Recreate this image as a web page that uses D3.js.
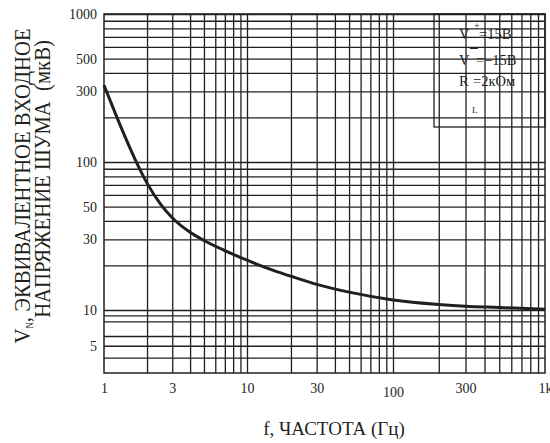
<!DOCTYPE html>
<html>
<head>
<meta charset="utf-8">
<script src="https://cdn.jsdelivr.net/npm/d3@7"></script>
<style>
  body { margin: 0; background: #fff; }
  text { font-family: "Liberation Serif", "Times New Roman", serif; fill: #231f20; }
</style>
</head>
<body>
<div id="chart"></div>
<script>
// frequency (Hz) vs equivalent input noise voltage (uV)
const freq  = [1, 1.2, 1.4, 1.7, 2, 2.5, 3, 4, 5, 7, 10, 15, 20, 30, 50, 100, 200, 300, 500, 1000];
const noise = [330, 213, 149, 98, 72, 51.5, 42, 33.5, 29.5, 25.2, 21.7, 18.6, 16.9, 14.9, 13.2, 11.7, 10.9, 10.6, 10.4, 10.1];

const xTicks = [1, 3, 10, 30, 100, 300, 1000];
const xLabels = ["1", "3", "10", "30", "100", "300", "1k"];
const yTicks = [1000, 500, 300, 100, 50, 30, 10, 5];

const xGrid = [2, 3, 4, 5, 6, 7, 8, 9, 10, 20, 30, 40, 50, 60, 70, 80, 90, 100,
               200, 300, 400, 500, 600, 700, 800, 900];
const yGrid = [4, 5, 6, 8, 9, 10, 20, 30, 40, 50, 60, 70, 80, 90, 100,
               200, 300, 400, 500, 600, 700, 800, 900, 1000];

const width = 550, height = 443;
const ink = "#231f20";

const svg = d3.select("#chart").append("svg")
  .attr("width", width)
  .attr("height", height);

// the printed grid is not quite uniform from decade to decade
const x = d3.scaleLog().domain([1, 10, 100, 1000]).range([104, 247, 393, 545]);
const y = d3.scaleLog().domain([3, 6, 10, 1000]).range([373, 336, 310, 14]);

const pL = 104, pR = 545, pT = 14, pB = 373;

// grid
svg.append("g")
  .attr("transform", `translate(0,${pB})`)
  .call(d3.axisBottom(x).tickValues(xGrid).tickSize(pT - pB).tickFormat(""))
  .call(g => g.select(".domain").remove())
  .call(g => g.selectAll("line").attr("stroke", ink).attr("stroke-width", 1.3));

svg.append("g")
  .attr("transform", `translate(${pL},0)`)
  .call(d3.axisLeft(y).tickValues(yGrid).tickSize(pL - pR).tickFormat(""))
  .call(g => g.select(".domain").remove())
  .call(g => g.selectAll("line").attr("stroke", ink).attr("stroke-width", 1.3));

// frame
svg.append("rect")
  .attr("x", pL).attr("y", pT)
  .attr("width", pR - pL)
  .attr("height", pB - pT)
  .attr("fill", "none").attr("stroke", ink).attr("stroke-width", 1.5);

// tick labels
svg.append("g")
  .attr("transform", `translate(0,${pB})`)
  .call(d3.axisBottom(x).tickValues(xTicks).tickSize(0).tickPadding(10)
    .tickFormat((d, i) => xLabels[i]))
  .call(g => g.select(".domain").remove())
  .call(g => g.selectAll("text").attr("font-size", 14).attr("font-family", null)
    .attr("dy", d => d === 100 ? "1.0em" : "0.71em"));

svg.append("g")
  .attr("transform", `translate(${pL},0)`)
  .call(d3.axisLeft(y).tickValues(yTicks).tickSize(0).tickPadding(7).tickFormat(d3.format("d")))
  .call(g => g.select(".domain").remove())
  .call(g => g.selectAll("text").attr("font-size", 14).attr("font-family", null));

// curve
const line = d3.line()
  .x((d, i) => x(freq[i]))
  .y(d => y(d))
  .curve(d3.curveMonotoneX);

svg.append("path")
  .datum(noise)
  .attr("d", line)
  .attr("fill", "none")
  .attr("stroke", ink)
  .attr("stroke-width", 3);

// conditions box
svg.append("rect")
  .attr("x", 434).attr("y", pT).attr("width", pR - 434).attr("height", 113)
  .attr("fill", "none").attr("stroke", ink).attr("stroke-width", 1.3);

const leg = svg.append("g").attr("font-size", 14.5);
leg.append("text").attr("x", 459).attr("y", 39).text("V");
leg.append("text").attr("x", 474).attr("y", 29).attr("font-size", 10).text("+");
leg.append("text").attr("x", 479).attr("y", 39).text("=15В");
leg.append("text").attr("x", 459).attr("y", 65).text("V");
leg.append("text").attr("x", 469).attr("y", 54).attr("font-size", 17).attr("font-weight", "bold").text("−");
leg.append("text").attr("x", 476).attr("y", 65).text("=−15В");
leg.append("text").attr("x", 459).attr("y", 86).text("R");
leg.append("text").attr("x", 473).attr("y", 86).text("=2кОм");
leg.append("text").attr("x", 472).attr("y", 113).attr("font-size", 9).text("L");

// axis titles
svg.append("text")
  .attr("transform", "translate(334,435)")
  .attr("text-anchor", "middle")
  .attr("font-size", 19)
  .text("f, ЧАСТОТА (Гц)");

const yt1 = svg.append("text")
  .attr("transform", "translate(30,186) rotate(-90) scale(0.9,1)")
  .attr("text-anchor", "middle")
  .attr("font-size", 23);
yt1.append("tspan").text("V");
yt1.append("tspan").attr("font-size", 10).attr("dy", 3).text("N");
yt1.append("tspan").attr("dy", -3).text(", ЭКВИВАЛЕНТНОЕ ВХОДНОЕ");

svg.append("text")
  .attr("transform", "translate(50,179) rotate(-90) scale(0.9,1)")
  .attr("text-anchor", "middle")
  .attr("font-size", 23)
  .attr("xml:space", "preserve")
  .text("НАПРЯЖЕНИЕ ШУМА  (мкВ)");
</script>
</body>
</html>
